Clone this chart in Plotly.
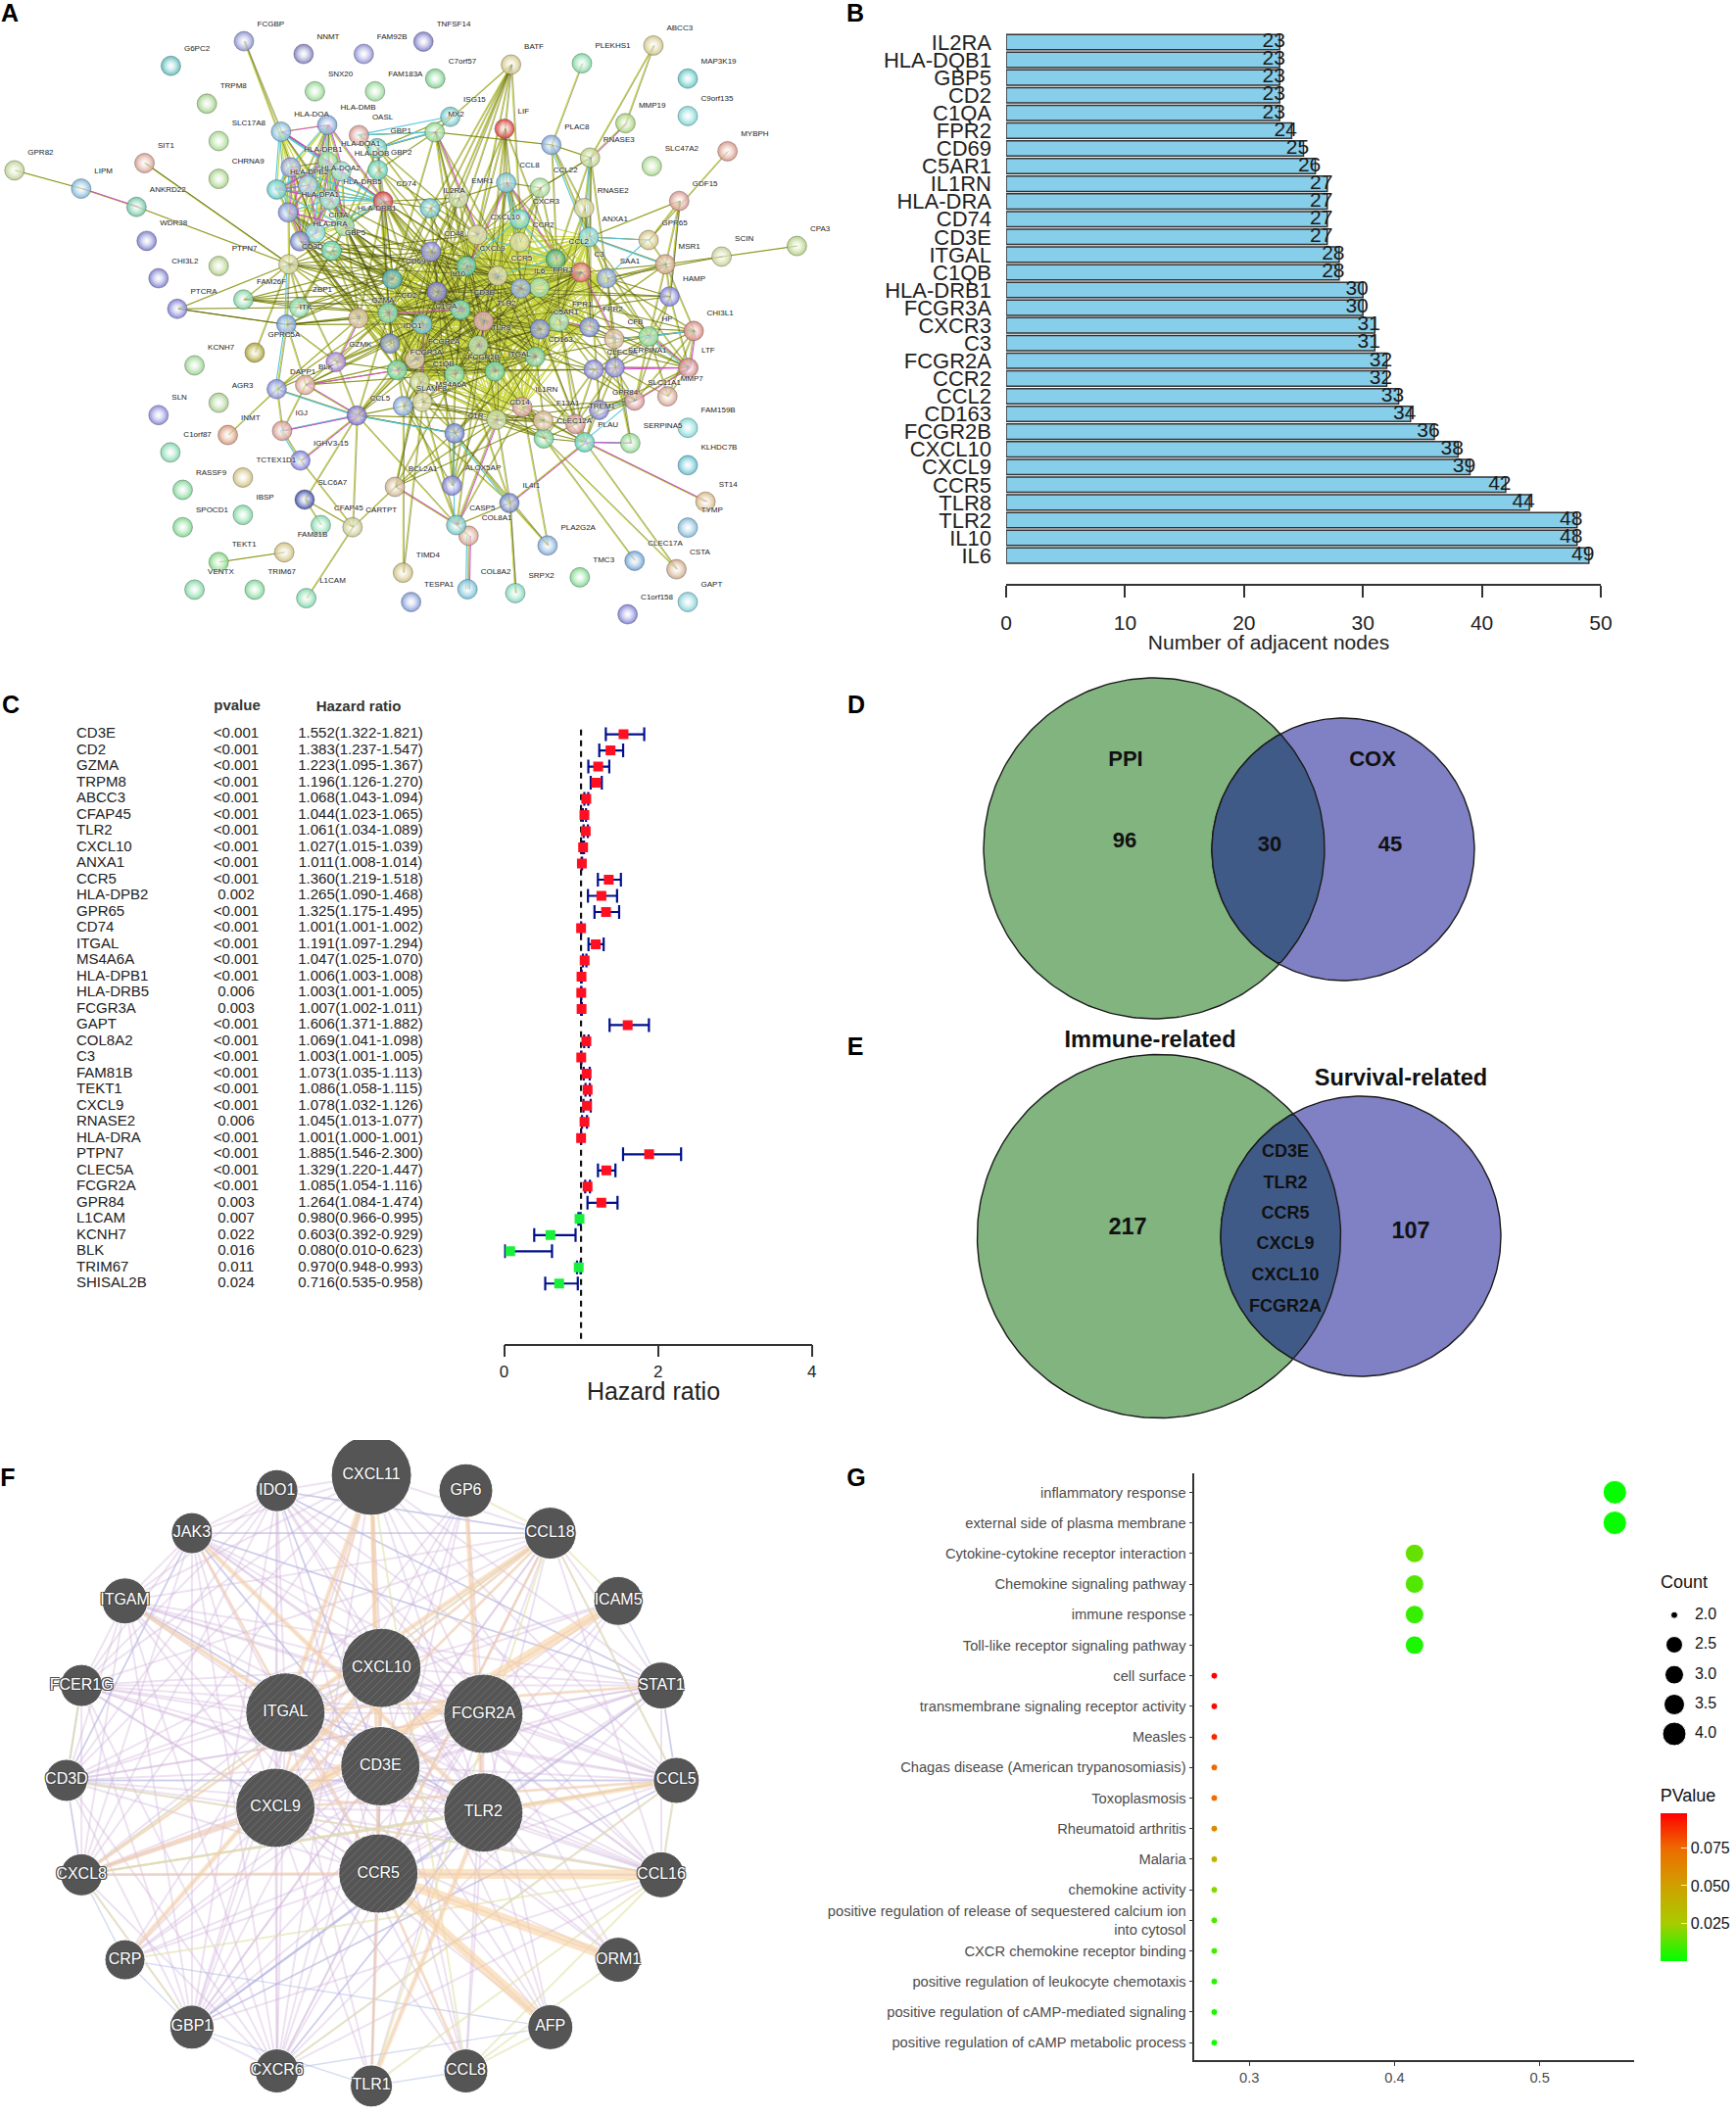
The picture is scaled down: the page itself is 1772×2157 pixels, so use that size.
from itertools import combinations, product

import numpy as np
import plotly.graph_objects as go

W, H = 1772, 2157
FONT = "Liberation Sans"

# ---- panel A: STRING network (positions)
a_names = [
    "FCGBP", "G6PC2", "NNMT", "FAM92B", "TNFSF14", "C7orf57", "SNX20", "FAM183A", "BATF", "PLEKHS1",
    "ABCC3", "MAP3K19", "C9orf135", "TRPM8", "SLC17A8", "CHRNA9", "MMP19", "MYBPH", "SLC47A2", "GPR82",
    "SIT1", "LIPM", "ANKRD22", "WDR38", "PTPN7", "CHI3L2", "PTCRA", "FAM26F", "GPRC5A", "KCNH7",
    "AGR3", "SLN", "INMT", "C1orf87", "RASSF9", "TCTEX1D1", "IBSP", "SPOCD1", "TEKT1", "FAM81B",
    "VENTX", "TRIM67", "L1CAM", "SLC6A7", "CFAP45", "CARTPT", "TIMD4", "TESPA1", "COL8A2", "SRPX2",
    "TMC3", "C1orf158", "GAPT", "CSTA", "CLEC17A", "TYMP", "ST14", "KLHDC7B", "FAM159B", "PLA2G2A",
    "COL8A1", "CASP5", "IL4I1", "ALOX5AP", "BCL2A1", "IGHV3-15", "IGJ", "CCL5", "DAPP1", "BLK",
    "GZMK", "ITK", "ZBP1", "CD3D", "CIITA", "GBP5", "HLA-DRB1", "HLA-DPA1", "HLA-DQA2", "HLA-DOA",
    "HLA-DMB", "OASL", "GBP1", "HLA-DQA1", "HLA-DPB1", "GBP2", "HLA-DOB", "HLA-DPB2", "HLA-DRB5", "HLA-DRA",
    "CD74", "MX2", "ISG15", "LIF", "PLAC8", "RNASE3", "CCL8", "CCL22", "EMR1", "IL2RA",
    "RNASE2", "CXCR3", "CXCL10", "CCR2", "ANXA1", "GPR65", "GDF15", "MSR1", "SCIN", "CPA3",
    "CD48", "CXCL9", "CCR5", "CCL2", "C3", "SAA1", "FPR3", "IL6", "CD69", "IL10",
    "HAMP", "CD2", "GZMA", "C1QA", "CD3E", "TLR2", "FPR1", "C5AR1", "FPR2", "CHI3L1",
    "CFB", "HP", "TLR8", "CD163", "IDO1", "FCGR2A", "FCGR3A", "C1QB", "FCGR2B", "ITGAL",
    "CLEC5A", "SERPINA1", "LTF", "MMP7", "SLC11A1", "GPR84", "SERPINA5", "PLAU", "TREM1", "CLEC12A",
    "F13A1", "IL1RN", "CD14", "MS4A6A", "SLAMF8", "C1R",
]
a_x = [
    454, 318, 565, 677, 788, 810, 586, 698, 951, 1083,
    1216, 1280, 1280, 385, 407, 407, 1164, 1354, 1213, 27,
    269, 151, 254, 273, 407, 295, 330, 453, 474, 362,
    407, 295, 424, 317, 340, 452, 452, 340, 407, 529,
    362, 474, 570, 567, 597, 656, 750, 765, 870, 959,
    1079, 1168, 1280, 1259, 1181, 1280, 1313, 1280, 1280, 1019,
    872, 849, 948, 841, 735, 559, 525, 664, 515, 568,
    625, 533, 557, 537, 587, 617, 641, 536, 573, 523,
    609, 668, 702, 610, 541, 703, 635, 515, 614, 558,
    713, 809, 838, 939, 1026, 1098, 942, 1005, 853, 800,
    1087, 967, 888, 967, 1096, 1207, 1264, 1238, 1343, 1483,
    802, 868, 926, 1034, 1081, 1129, 1004, 969, 730, 813,
    1246, 722, 667, 786, 857, 900, 1040, 1005, 1097, 1291,
    1143, 1207, 890, 996, 726, 772, 739, 781, 846, 921,
    1105, 1144, 1281, 1242, 1181, 1115, 1173, 1088, 1071, 1012,
    1011, 972, 924, 786, 750, 846,
]
a_y = [
    97, 155, 127, 127, 98, 185, 215, 215, 152, 149,
    107, 185, 273, 244, 332, 421, 290, 356, 391, 401,
    384, 444, 487, 567, 626, 655, 727, 705, 830, 860,
    948, 977, 1024, 1065, 1153, 1124, 1212, 1241, 1323, 1300,
    1388, 1388, 1408, 1176, 1236, 1241, 1348, 1417, 1387, 1396,
    1359, 1446, 1417, 1340, 1320, 1242, 1181, 1095, 1007, 1284,
    1261, 1236, 1184, 1143, 1146, 1084, 1014, 978, 916, 906,
    852, 764, 724, 622, 548, 590, 532, 500, 436, 310,
    294, 318, 349, 380, 394, 400, 403, 446, 470, 568,
    474, 311, 275, 303, 341, 371, 430, 442, 466, 490,
    490, 516, 553, 570, 558, 565, 473, 622, 604, 579,
    592, 626, 649, 610, 641, 655, 677, 679, 657, 687,
    698, 737, 749, 763, 729, 756, 757, 775, 770, 779,
    798, 792, 813, 840, 809, 846, 871, 898, 881, 874,
    870, 865, 866, 933, 943, 965, 1043, 1041, 998, 1032,
    990, 958, 988, 946, 956, 1020,
]
a_colors = [
    "#8d93d0", "#5ebcbc", "#7f7fc0", "#9090d8", "#7f7fc8", "#7dd08e", "#93d793", "#96d896", "#d2c688", "#7ed7a2",
    "#d0c688", "#5ec8c8", "#7dd4d4", "#a0d088", "#a5d88e", "#a8d488", "#a8d078", "#d89888", "#a8d88e", "#bcd090",
    "#d6a090", "#7fb8d8", "#70c8a4", "#7f7fd0", "#b2d088", "#7f80d0", "#7f7fd8", "#80d4a4", "#aaa230", "#98d48e",
    "#a8d090", "#8888d8", "#d89878", "#80d7ac", "#80d898", "#d0c080", "#80d8a4", "#80d890", "#80d880", "#d0c080",
    "#80d8a4", "#80d898", "#80d8ac", "#4050a8", "#80d8ac", "#c8c890", "#d0c080", "#7f98d8", "#70c0d8", "#80d8bc",
    "#80d890", "#8080d8", "#80d0d8", "#d0ac88", "#70a4d8", "#80b8d8", "#d8b880", "#60c0d0", "#80d8d8", "#80acd8",
    "#d8a490", "#70c8c8", "#7084c8", "#8080d8", "#d0b490", "#8080d8", "#d89890", "#8070c8", "#808cd8", "#d8a490",
    "#a480d8", "#709cd8", "#80d7a4", "#d0d090", "#80d8d8", "#60d0a4", "#90d890", "#8094d8", "#90c0d8", "#80b8d8",
    "#80a4d8", "#d89890", "#60c8b4", "#90d890", "#909cd8", "#60d0b4", "#90d8bc", "#60c8c8", "#90d8c4", "#7084c8",
    "#d84040", "#90d890", "#70c8c8", "#d84040", "#80a4d8", "#bcd080", "#70c0d0", "#a0d890", "#bcd490", "#60c0c8",
    "#d0d090", "#60d0bc", "#d0d090", "#d0d080", "#70d0d0", "#d0c080", "#d89890", "#d0a480", "#c8d090", "#b4d080",
    "#8081d8", "#50c094", "#d0d090", "#40a864", "#d86060", "#809cd8", "#90d890", "#80a4d8", "#40a8a8", "#7070c8",
    "#8080d8", "#70d0a4", "#d0b490", "#60c0c8", "#60d0a4", "#d89898", "#90d8a4", "#7084d0", "#7084d0", "#d88880",
    "#d8b490", "#80d890", "#a4d490", "#70c894", "#7084b8", "#d0bc90", "#60d094", "#bcd080", "#70d490", "#60d094",
    "#8080d8", "#8080d8", "#d08080", "#d8a490", "#d89090", "#8080d0", "#90d890", "#60d0b4", "#d89090", "#70d094",
    "#d8b490", "#d89890", "#bcd490", "#d0d090", "#80a4d8", "#7084d0",
]

a_core = ("CD48 CXCL9 CCR5 CCL2 C3 SAA1 FPR3 IL6 CD69 IL10 CD2 GZMA C1QA CD3E TLR2 FPR1 C5AR1 FPR2 TLR8 CD163 "
          "IDO1 FCGR2A FCGR3A C1QB FCGR2B ITGAL CXCL10 CCR2 CXCR3 ANXA1 IL1RN CD14").split()
a_dark_core = "CD48 CCR5 IL6 IL10 CD2 CD3E TLR2 C5AR1 TLR8 CD163 FCGR2A FCGR3A FCGR2B ITGAL CXCL9 C3".split()
a_hla = ("HLA-DRB1 HLA-DPA1 HLA-DQA2 HLA-DOA HLA-DMB HLA-DQA1 HLA-DPB1 HLA-DOB HLA-DPB2 HLA-DRB5 HLA-DRA "
         "CD74 CIITA").split()
a_stars = {
    "CD74": "CD2 CD3E CD48 IL10 IL6 CD69 ITGAL TLR2 CCR5 CD163 GZMA C1QA EMR1 IL2RA".split(),
    "HLA-DRA": "CD2 CD3E CD48 IL10 CD69 GZMA ITGAL FCGR3A CCR5 C1QB C1QA IDO1".split(),
    "HLA-DRB1": "CD2 CD3E IL10 CD69 GZMA ITGAL FCGR2A CCR5 C1QB TLR2 IDO1 IL6".split(),
    "HLA-DRB5": "CD2 CD3E CD48 CD69 C1QA FCGR2B".split(),
    "HLA-DPA1": "CD2 GZMA CD3D CD3E CD69 FCGR3A".split(),
    "GBP5": "CXCL9 CXCL10 CCR5 CD2 CD69 IDO1 GBP1 GBP2 GZMA CD3E ITK ZBP1 CD3D".split(),
    "GBP1": "MX2 ISG15 OASL GBP2 CXCL9 CXCL10 IDO1 CD69".split(),
    "GBP2": "MX2 OASL CXCL9 CXCL10 IDO1 CD48".split(),
    "CD3D": "CD2 CD3E GZMA ITK CD48 IL10 CD69 CCR5 ZBP1 GZMK SIT1 PTCRA ANKRD22 FAM26F CD74".split(),
    "ITK": "CD2 CD3E GZMA GZMK DAPP1 BLK CD48 PTCRA C1QA CD69".split(),
    "GZMK": "CD2 CD3E GZMA CCR5 CCL5 FCGR3A".split(),
    "ZBP1": "CD2 CD69 CXCL10 IL10 FAM26F PTCRA".split(),
    "FAM26F": "CD2 CD48 CD69 IL10 CD3E".split(),
    "BATF": "CD2 IL2RA EMR1 CD48 LIF CXCR3 CD3E IL10".split(),
    "MX2": "ISG15 OASL CXCL10 IL6 CD69 TLR2 CXCL9 CD3E".split(),
    "LIF": "IL6 IL10 CCL2 CCL8 CD14 CXCL10 TLR2".split(),
    "CCL8": "CCL2 CCR2 CCR5 CXCR3 CXCL9 CXCL10 CCL22 IL6 EMR1 TLR2 C3".split(),
    "CCL22": "CCR2 CCR5 CCL2 CXCL10 IL10 IL6 RNASE3".split(),
    "EMR1": "FPR1 CD163 CD14 C1QA FCGR3A IL2RA CD48".split(),
    "IL2RA": "IL10 IL6 CD3E CD2 CD69 CCR5".split(),
    "PLAC8": "RNASE3 RNASE2 ANXA1 MX2 FPR1".split(),
    "RNASE3": "RNASE2 ANXA1 CCL2 SAA1 FPR2 CCL22 ABCC3 MMP19".split(),
    "RNASE2": "FPR1 FPR2 C5AR1 ANXA1 GPR84".split(),
    "ANXA1": "GPR65 SAA1 FPR3 HP LTF GDF15 MSR1".split(),
    "MSR1": "SAA1 C3 HP CHI3L1 HAMP TLR2 GPR65 CD163 SCIN GDF15".split(),
    "HAMP": "HP LTF IL6 SAA1 SLC11A1 TLR2 IL10 GDF15".split(),
    "HP": "SAA1 C3 CFB LTF CHI3L1 SERPINA1 IL6 CD163 SLC11A1 CLEC5A MMP7".split(),
    "CFB": "C3 SAA1 FPR1 C5AR1 SERPINA1 SERPINA5 IL6 CHI3L1 PLAU".split(),
    "CHI3L1": "LTF SAA1 IL6 MMP7 SERPINA1 TLR2 SLC11A1".split(),
    "LTF": "SERPINA1 MMP7 SLC11A1 TLR2 IL6 FPR2 GPR84 C3".split(),
    "SLC11A1": "TLR2 CD14 TREM1 CLEC5A FPR1 FPR2 GPR84 IL1RN".split(),
    "SERPINA1": "IL6 SAA1 CLEC5A PLAU TREM1 SERPINA5 MMP7".split(),
    "CLEC5A": "TREM1 TLR2 TLR8 FPR1 FCGR3A ITGAL CLEC12A".split(),
    "TREM1": "TLR2 TLR8 CD14 C5AR1 FPR1 IL1RN GPR84 CLEC12A".split(),
    "CLEC12A": "TLR2 TLR8 F13A1 CD14 FCGR2A C1QB PLAU MS4A6A".split(),
    "PLAU": "IL6 IL1RN FPR1 CD14 SERPINA5 TLR2 F13A1".split(),
    "F13A1": "C1QA C1QB FCGR2A CD163 CD14 MS4A6A SLAMF8".split(),
    "MS4A6A": "C1QA C1QB FCGR2B FCGR3A ITGAL CD14 SLAMF8 C1R TLR8".split(),
    "SLAMF8": "CD163 CD2 C1QB TLR2 IL10 CCL5 CCR5".split(),
    "C1R": "C1QA C1QB C3 CD14 CD163 CCL5 ALOX5AP".split(),
    "CCL5": "CCR5 CXCL9 CD2 CD3E BLK DAPP1 IGJ IGHV3-15 CCL2 FCGR3A C1R CD14".split(),
    "BLK": "CD2 CD3E FCGR3A FCGR2B IGJ C1QA FCGR2A".split(),
    "DAPP1": "CD3E CD2 IGJ GZMA".split(),
    "BCL2A1": "CD14 TLR2 CD163 C1QB IL10 F13A1".split(),
    "ALOX5AP": "CD14 TLR2 FCGR2B ITGAL CD163 IL10 SLAMF8".split(),
    "IL4I1": "C1R SLAMF8 IL10 CD14 SRPX2 PLA2G2A".split(),
    "CASP5": "CD14 TLR2 IL1RN FCGR3A MS4A6A CCL5".split(),
}
a_extra = [
    ("FCGBP", "HLA-DOA"), ("FCGBP", "CIITA"), ("GPR82", "LIPM"), ("LIPM", "ANKRD22"), ("SIT1", "CD3D"),
    ("PTCRA", "ITK"), ("ABCC3", "MMP19"), ("PLEKHS1", "PLAC8"), ("BATF", "MX2"), ("MYBPH", "GPR65"),
    ("GDF15", "GPR65"), ("SCIN", "CPA3"), ("SCIN", "SAA1"), ("TEKT1", "FAM81B"), ("CARTPT", "L1CAM"),
    ("CARTPT", "CCL5"), ("CARTPT", "SLC6A7"), ("CARTPT", "IGHV3-15"), ("CFAP45", "SLC6A7"), ("IGJ", "IGHV3-15"),
    ("INMT", "DAPP1"), ("TIMD4", "SLAMF8"), ("TIMD4", "MS4A6A"), ("COL8A1", "COL8A2"), ("COL8A1", "CASP5"),
    ("CASP5", "BCL2A1"), ("CASP5", "IL4I1"), ("IL4I1", "PLAU"), ("ST14", "PLAU"), ("CLEC17A", "CLEC12A"),
    ("CSTA", "CLEC12A"), ("CSTA", "PLAU"), ("PLA2G2A", "C1R"), ("PLA2G2A", "IL1RN"), ("SRPX2", "IL4I1"),
    ("GPRC5A", "CD3D"), ("CARTPT", "BCL2A1"), ("HAMP", "GDF15"), ("SLC6A7", "CCL5"),
]
a_cyan = [
    ("ISG15", "OASL"), ("MX2", "GBP1"), ("MX2", "OASL"), ("COL8A1", "COL8A2"), ("IGJ", "CCL5"), ("IGJ", "IGHV3-15"),
    ("CCL5", "C1R"), ("C1R", "IL4I1"), ("C1R", "CASP5"), ("PLAC8", "ANXA1"), ("RNASE3", "ANXA1"), ("ANXA1", "GPR65"),
    ("GPR65", "SAA1"), ("MSR1", "ANXA1"), ("CCL8", "CCR2"), ("CCL8", "CXCR3"), ("CXCR3", "CCL2"), ("CCL2", "CXCL10"),
    ("CXCR3", "CXCL9"), ("CCR5", "CCL2"), ("HP", "CHI3L1"), ("HP", "LTF"), ("PLAU", "SERPINA5"), ("SLC11A1", "PLAU"),
    ("GPR84", "SLC11A1"), ("CFB", "HP"), ("CD3D", "ITK"), ("ITK", "DAPP1"), ("DAPP1", "CCL5"), ("CD74", "CIITA"),
]
a_magenta = [
    ("LIPM", "ANKRD22"), ("COL8A1", "COL8A2"), ("ST14", "PLAU"), ("IL4I1", "PLAU"), ("BCL2A1", "CASP5"), ("CCL5", "BLK"),
    ("BLK", "FCGR3A"), ("CCL5", "IGJ"), ("IGHV3-15", "CCL5"), ("MMP19", "RNASE3"), ("HLA-DOA", "HLA-DMB"), ("CCL8", "CXCL9"),
    ("CCL8", "CCL2"), ("MX2", "CXCL10"), ("CFB", "C3"), ("LTF", "HP"), ("LTF", "CHI3L1"), ("SLC11A1", "LTF"),
    ("PLAU", "SERPINA5"), ("TLR2", "TLR8"), ("CD3E", "CD2"), ("FCGR2A", "FCGR3A"), ("FPR1", "FPR2"), ("C1QA", "C1QB"),
    ("CASP5", "CD14"), ("CLEC5A", "LTF"), ("GZMK", "GZMA"), ("SERPINA1", "LTF"),
]

# ---- panel B
b_genes = ["IL2RA", "HLA-DQB1", "GBP5", "CD2", "C1QA", "FPR2", "CD69", "C5AR1", "IL1RN", "HLA-DRA",
           "CD74", "CD3E", "ITGAL", "C1QB", "HLA-DRB1", "FCGR3A", "CXCR3", "C3", "FCGR2A", "CCR2",
           "CCL2", "CD163", "FCGR2B", "CXCL10", "CXCL9", "CCR5", "TLR8", "TLR2", "IL10", "IL6"]
b_nodes = [23, 23, 23, 23, 23, 24, 25, 26, 27, 27,
           27, 27, 28, 28, 30, 30, 31, 31, 32, 32,
           33, 34, 36, 38, 39, 42, 44, 48, 48, 49]

# ---- panel C
c_genes = ["CD3E", "CD2", "GZMA", "TRPM8", "ABCC3", "CFAP45", "TLR2", "CXCL10", "ANXA1", "CCR5",
           "HLA-DPB2", "GPR65", "CD74", "ITGAL", "MS4A6A", "HLA-DPB1", "HLA-DRB5", "FCGR3A", "GAPT", "COL8A2",
           "C3", "FAM81B", "TEKT1", "CXCL9", "RNASE2", "HLA-DRA", "PTPN7", "CLEC5A", "FCGR2A", "GPR84",
           "L1CAM", "KCNH7", "BLK", "TRIM67", "SHISAL2B"]
c_pvalue = ["<0.001"] * 10 + ["0.002"] + ["<0.001"] * 5 + ["0.006", "0.003"] + ["<0.001"] * 6 + ["0.006"] + \
           ["<0.001"] * 4 + ["0.003", "0.007", "0.022", "0.016", "0.011", "0.024"]
c_hr = [1.552, 1.383, 1.223, 1.196, 1.068, 1.044, 1.061, 1.027, 1.011, 1.360,
        1.265, 1.325, 1.001, 1.191, 1.047, 1.006, 1.003, 1.007, 1.606, 1.069,
        1.003, 1.073, 1.086, 1.078, 1.045, 1.001, 1.885, 1.329, 1.085, 1.264,
        0.980, 0.603, 0.080, 0.970, 0.716]
c_low = [1.322, 1.237, 1.095, 1.126, 1.043, 1.023, 1.034, 1.015, 1.008, 1.219,
         1.090, 1.175, 1.001, 1.097, 1.025, 1.003, 1.001, 1.002, 1.371, 1.041,
         1.001, 1.035, 1.058, 1.032, 1.013, 1.000, 1.546, 1.220, 1.054, 1.084,
         0.966, 0.392, 0.010, 0.948, 0.535]
c_high = [1.821, 1.547, 1.367, 1.270, 1.094, 1.065, 1.089, 1.039, 1.014, 1.518,
          1.468, 1.495, 1.002, 1.294, 1.070, 1.008, 1.005, 1.011, 1.882, 1.098,
          1.005, 1.113, 1.115, 1.126, 1.077, 1.001, 2.300, 1.447, 1.116, 1.474,
          0.995, 0.929, 0.623, 0.993, 0.958]

# ---- panels D, E
e_overlap = ["CD3E", "TLR2", "CCR5", "CXCL9", "CXCL10", "FCGR2A"]

# ---- panel F: GeneMANIA network
f_outer = ["CXCL11", "IDO1", "GP6", "JAK3", "CCL18", "ITGAM", "ICAM5", "FCER1G", "STAT1", "CD3D",
           "CCL5", "CXCL8", "CCL16", "CRP", "ORM1", "GBP1", "AFP", "CXCR6", "CCL8", "TLR1"]
f_outer_x = [743, 554, 932, 384, 1101, 250, 1237, 163, 1323, 133,
             1353, 163, 1323, 250, 1237, 384, 1101, 554, 932, 743]
f_outer_y = [82, 118, 118, 217, 217, 375, 375, 572, 572, 793,
             793, 1013, 1013, 1211, 1211, 1368, 1368, 1470, 1470, 1505]
f_outer_size = [82, 43, 55, 42, 53, 47, 50, 43, 48, 43,
                47, 43, 47, 41, 46, 45, 46, 45, 45, 43]
f_inner = ["CXCL10", "ITGAL", "FCGR2A", "CD3E", "CXCL9", "TLR2", "CCR5"]
f_inner_x = [763, 571, 967, 761, 551, 967, 757]
f_inner_y = [531, 635, 638, 760, 857, 868, 1010]
f_purple_hubs = ["CCL18", "STAT1", "CCL5", "GBP1", "CD3D", "FCER1G", "ITGAM", "CXCR6", "JAK3", "IDO1", "CXCL8", "CCL16", "CXCL11"]
f_blue = [("JAK3", "STAT1"), ("JAK3", "CCL18"), ("JAK3", "CD3E"), ("JAK3", "CD3D"), ("IDO1", "CCL18"), ("IDO1", "STAT1"),
          ("IDO1", "CD3E"), ("ITGAM", "TLR2"), ("CRP", "AFP"), ("CRP", "GBP1"), ("GBP1", "STAT1"), ("GBP1", "CCL5"),
          ("GBP1", "TLR2"), ("CXCR6", "AFP"), ("CXCR6", "TLR2"), ("CXCL8", "CRP"), ("STAT1", "CCL5"), ("CD3D", "CXCL8"),
          ("CD3D", "CCL5"), ("FCER1G", "CD3D"), ("ICAM5", "STAT1"), ("TLR1", "CCL8"), ("GBP1", "TLR1")]
f_olive = [("FCER1G", "CD3D"), ("CCL5", "CCL16"), ("CCL18", "CCL5"), ("CCL18", "ICAM5"), ("GP6", "CCL18"), ("CCL18", "TLR1"),
           ("CXCL8", "CCL18"), ("CXCL8", "CCL5"), ("CXCL8", "TLR2"), ("CCL16", "CCL8"), ("CCL16", "TLR1"), ("CXCL11", "CCL8"),
           ("CRP", "CCL16"), ("AFP", "CCL8"), ("ORM1", "CCL8"), ("CXCR6", "CCL5"), ("CXCL8", "GBP1"), ("CD3D", "CCL16")]
f_orange_thin = [("JAK3", "CCR5"), ("CXCL11", "CXCL9"), ("CXCL11", "CCR5"), ("CCL18", "CXCL9"), ("CCL18", "CXCL10"), ("CCL18", "CCR5"),
                 ("CXCL8", "CXCL10"), ("CXCL8", "CCR5"), ("CCL5", "CXCL9"), ("STAT1", "ITGAL"), ("TLR1", "CCR5"), ("CCL8", "CCR5")]
f_orange_mid = [("ITGAM", "CD3E"), ("JAK3", "TLR2"), ("CXCL11", "CD3E"), ("CXCL11", "ITGAL"), ("GP6", "TLR2"), ("CCL18", "ITGAL"),
                ("CXCL8", "CXCL9"), ("CRP", "CXCL10"), ("CCL5", "TLR2"), ("TLR1", "TLR2")]
f_orange_thick = [("ICAM5", "CXCL9"), ("CCL16", "CCR5"), ("ORM1", "CCR5"), ("AFP", "CCR5")]

# ---- panel G
g_terms = ["inflammatory response", "external side of plasma membrane", "Cytokine-cytokine receptor interaction",
           "Chemokine signaling pathway", "immune response", "Toll-like receptor signaling pathway", "cell surface",
           "transmembrane signaling receptor activity", "Measles", "Chagas disease (American trypanosomiasis)",
           "Toxoplasmosis", "Rheumatoid arthritis", "Malaria", "chemokine activity",
           "positive regulation of release of sequestered calcium ion<br>into cytosol", "CXCR chemokine receptor binding",
           "positive regulation of leukocyte chemotaxis", "positive regulation of cAMP-mediated signaling",
           "positive regulation of cAMP metabolic process"]
g_ratio = [0.5517, 0.5517, 0.4138, 0.4138, 0.4138, 0.4138, 0.2759, 0.2759, 0.2759, 0.2759,
           0.2759, 0.2759, 0.2759, 0.2759, 0.2759, 0.2759, 0.2759, 0.2759, 0.2759]
g_count = [4, 4, 3, 3, 3, 3, 2, 2, 2, 2, 2, 2, 2, 2, 2, 2, 2, 2, 2]
g_pvalue = [0.0008, 0.001, 0.015, 0.012, 0.008, 0.004, 0.098, 0.097, 0.09, 0.075,
            0.073, 0.06, 0.04, 0.02, 0.012, 0.01, 0.006, 0.004, 0.003]
g_legend_counts = [2.0, 2.5, 3.0, 3.5, 4.0]
g_legend_sizes = [7, 17, 19, 21, 24]


def dom_x(left, right):
    return [left / W, right / W]


def dom_y(top, bottom):
    return [1 - bottom / H, 1 - top / H]


def hidden(dom, rng, anchor):
    return dict(domain=dom, range=rng, anchor=anchor, visible=False, fixedrange=True)


def edge_xy(pairs, lookup, off=0):
    xs, ys = [], []
    for p, q in pairs:
        xs += [lookup[p][0] + off, lookup[q][0] + off, None]
        ys += [lookup[p][1], lookup[q][1], None]
    return xs, ys


fig = go.Figure()


def add_edges(pairs, lookup, color, width, axes, off=0):
    xs, ys = edge_xy(pairs, lookup, off)
    fig.add_trace(go.Scatter(x=xs, y=ys, mode="lines", line=dict(color=color, width=width),
                             hoverinfo="skip", xaxis=axes[0], yaxis=axes[1]))


def add_text(xs, ys, texts, size, color="#111111", bold=False, pos="middle center"):
    fig.add_trace(go.Scatter(x=xs, y=ys, text=texts, mode="text", textposition=pos,
                             textfont=dict(family=FONT, size=size, color=color, weight="bold" if bold else "normal"),
                             hoverinfo="skip", xaxis="x8", yaxis="y8"))


# ---- A
a_pos = dict(zip(a_names, zip(a_x, a_y)))
a_star_edges = [(hub, n) for hub, others in a_stars.items() for n in others]
a_all = list(combinations(a_core, 2)) + list(combinations(a_hla, 2)) + a_star_edges + a_extra
a_dark = list(combinations(a_dark_core, 2)) + a_star_edges + a_extra + list(combinations(a_hla, 2))[::2]
add_edges(a_all, a_pos, "#c8d63c", 1.1, ("x", "y"))
add_edges(a_dark, a_pos, "rgba(45,45,25,0.7)", 0.6, ("x", "y"), off=2)
add_edges(a_cyan + list(combinations(a_hla, 2))[1::3], a_pos, "#55c6e0", 1.1, ("x", "y"), off=-3)
add_edges(a_magenta + list(combinations(a_hla, 2))[::4], a_pos, "#d64fd0", 1.0, ("x", "y"), off=4)
fig.add_trace(go.Scatter(
    x=a_x, y=a_y, text=a_names, mode="markers+text", textposition="top right",
    marker=dict(size=20, color=a_colors, opacity=1, gradient=dict(type="radial", color="rgba(255,255,255,0.45)"),
                line=dict(color="rgba(80,80,80,0.6)", width=0.7)),
    textfont=dict(family=FONT, size=8, color="#222222", shadow="0 0 2px #ffffff, 0 0 2px #ffffff"),
    hoverinfo="skip"))

# ---- B
fig.add_trace(go.Bar(x=b_nodes, y=b_genes, orientation="h", marker=dict(color="#87ceeb", line=dict(color="#333333", width=1.5)),
                     hoverinfo="skip", xaxis="x2", yaxis="y2"))
fig.add_trace(go.Scatter(x=[v - 0.5 for v in b_nodes], y=b_genes, text=b_nodes, mode="text", textposition="middle center",
                         textfont=dict(family=FONT, size=21, color="#1a1a1a"), hoverinfo="skip", xaxis="x2", yaxis="y2"))
add_text([1295], [658], ["Number of adjacent nodes"], 21, "#222222")

# ---- C
c_rows = list(range(len(c_genes)))
c_row0, c_rowh = 749.6, 16.49
fig.add_trace(go.Scatter(x=[1, 1], y=[-0.3, 37.72], mode="lines", line=dict(color="#111111", width=2.2, dash="6px,5px"),
                         hoverinfo="skip", xaxis="x3", yaxis="y3"))
fig.add_trace(go.Scatter(
    x=c_hr, y=c_rows, mode="markers",
    marker=dict(symbol="square", size=10, opacity=1, color=["#ff1020" if v > 1 else "#19f03c" for v in c_hr]),
    error_x=dict(type="data", symmetric=False, array=[h - v for h, v in zip(c_high, c_hr)],
                 arrayminus=[v - l for v, l in zip(c_hr, c_low)], color="#00108a", thickness=2.2, width=7),
    hoverinfo="skip", xaxis="x3", yaxis="y3"))
row_px = [c_row0 + c_rowh * i for i in c_rows]
add_text([78] * len(c_genes), row_px, c_genes, 15, "#222222", pos="middle right")
add_text([241] * len(c_genes), row_px, c_pvalue, 15, "#222222")
add_text([368] * len(c_genes), row_px, [f"{h:.3f}({l:.3f}-{u:.3f})" for h, l, u in zip(c_hr, c_low, c_high)], 15, "#222222")
add_text([242, 366], [721, 722], ["pvalue", "Hazard ratio"], 15, "#333333", bold=True)
add_text([667], [1423], ["Hazard ratio"], 25, "#222222")


# ---- D, E
def circle(cx, cy, r):
    t = np.linspace(0, 2 * np.pi, 241)
    return cx + r * np.cos(t), cy + r * np.sin(t)


def lens(c1, c2):
    x1, y1 = circle(*c1)
    x2, y2 = circle(*c2)
    in2 = (x1 - c2[0]) ** 2 + (y1 - c2[1]) ** 2 <= c2[2] ** 2
    in1 = (x2 - c1[0]) ** 2 + (y2 - c1[1]) ** 2 <= c1[2] ** 2
    p1 = np.column_stack([x1[in2], y1[in2]])
    p2 = np.column_stack([x2[in1], y2[in1]])
    pts = np.vstack([p1, p2])
    ang = np.arctan2(pts[:, 1] - pts[:, 1].mean(), pts[:, 0] - pts[:, 0].mean())
    pts = pts[np.argsort(ang)]
    return np.append(pts[:, 0], pts[0, 0]), np.append(pts[:, 1], pts[0, 1])


def venn(big, small):
    for c, col in ((big, "#82b47f"), (small, "#8080c4")):
        x, y = circle(*c)
        fig.add_trace(go.Scatter(x=x, y=y, mode="lines", fill="toself", fillcolor=col, line=dict(color="#1a1a1a", width=1.4),
                                 hoverinfo="skip", xaxis="x8", yaxis="y8"))
    x, y = lens(big, small)
    fig.add_trace(go.Scatter(x=x, y=y, mode="lines", fill="toself", fillcolor="#405a88", line=dict(color="#1a1a1a", width=1.4),
                             hoverinfo="skip", xaxis="x8", yaxis="y8"))


venn((1178, 866, 174), (1371, 867, 134))
venn((1183, 1262, 185.5), (1389, 1262, 143))
add_text([1149, 1401, 1148, 1296, 1419], [776, 776, 859, 863, 863], ["PPI", "COX", "96", "30", "45"], 22, bold=True)
add_text([1174, 1430], [1063, 1102], ["Immune-related", "Survival-related"], 23.5, bold=True)
add_text([1151, 1440], [1254, 1258], ["217", "107"], 23.5, bold=True)
add_text([1312] * 6, [1176.5, 1208, 1239.5, 1270.5, 1302.5, 1334], e_overlap, 18, bold=True)

# ---- F
f_pos = dict(zip(f_outer + f_inner, zip(f_outer_x + f_inner_x, f_outer_y + f_inner_y)))
f_purple = list(product(f_inner, f_outer)) + list(combinations(f_inner, 2)) + list(combinations(f_purple_hubs, 2))
add_edges(f_purple, f_pos, "rgba(208,178,218,0.38)", 2, ("x7", "y7"))
add_edges(f_blue, f_pos, "rgba(170,185,230,0.5)", 1.4, ("x7", "y7"))
add_edges(f_olive, f_pos, "rgba(225,225,170,0.6)", 2, ("x7", "y7"))
add_edges(f_orange_thin, f_pos, "rgba(248,210,160,0.45)", 3, ("x7", "y7"))
add_edges(f_orange_mid, f_pos, "rgba(248,210,160,0.5)", 5, ("x7", "y7"))
add_edges(f_orange_thick, f_pos, "rgba(248,210,160,0.6)", 10, ("x7", "y7"))
fig.add_trace(go.Scatter(x=f_outer_x + f_inner_x, y=f_outer_y + f_inner_y, mode="markers",
                         marker=dict(size=f_outer_size + [81] * len(f_inner), color="#555555", opacity=1),
                         hoverinfo="skip", xaxis="x7", yaxis="y7"))
hx, hy = [], []
for cx, cy in zip(f_inner_x, f_inner_y):
    for s in np.arange(-1.3, 1.31, 0.2):
        d = np.sqrt(2 - s * s)
        for u in ((s - d) / 2, (s + d) / 2):
            hx.append(cx + u * 79)
            hy.append(cy + (s - u) * 92)
        hx.append(None)
        hy.append(None)
fig.add_trace(go.Scatter(x=hx, y=hy, mode="lines", line=dict(color="#727272", width=0.9), hoverinfo="skip", xaxis="x7", yaxis="y7"))
fig.add_trace(go.Scatter(x=f_outer_x + f_inner_x, y=f_outer_y + f_inner_y, text=f_outer + f_inner, mode="text",
                         textposition="middle center",
                         textfont=dict(family=FONT, size=16, color="#ffffff",
                                       shadow="-1px -1px 0 #4a4a4a, 1px -1px 0 #4a4a4a, -1px 1px 0 #4a4a4a, 1px 1px 0 #4a4a4a"),
                         hoverinfo="skip", xaxis="x7", yaxis="y7"))

# ---- G
size_for_count = dict(zip(g_legend_counts, g_legend_sizes))
fig.add_trace(go.Scatter(
    x=g_ratio, y=g_terms, mode="markers",
    marker=dict(size=[size_for_count[float(c)] for c in g_count], color=g_pvalue, cmin=0, cmax=0.098, opacity=1,
                colorscale=[[0, "#00ff00"], [0.255, "#a8cc00"], [0.51, "#d0a000"], [0.765, "#ee6a00"], [1, "#ff0000"]],
                colorbar=dict(x=1695 / W, xanchor="left", xpad=0, y=1 - 1851 / H, yanchor="top", ypad=0,
                              thicknessmode="pixels", thickness=27, lenmode="pixels", len=151, outlinewidth=0,
                              tickvals=[0.025, 0.05, 0.075], ticktext=["0.025", "0.050", "0.075"], ticks="inside",
                              ticklen=6, tickcolor="rgba(255,255,255,0.8)", tickfont=dict(family=FONT, size=16, color="#111111"))),
    hoverinfo="skip", xaxis="x4", yaxis="y4"))
legend_y = [1648.7, 1679, 1709.6, 1740, 1770]
fig.add_trace(go.Scatter(x=[1709] * 5, y=legend_y, mode="markers", marker=dict(size=g_legend_sizes, color="#000000", opacity=1),
                         hoverinfo="skip", xaxis="x8", yaxis="y8"))
add_text([1741] * 5, legend_y, [f"{c:.1f}" for c in g_legend_counts], 16)
add_text([1719, 1723], [1616, 1834], ["Count", "PValue"], 18)

# panel letters
add_text([10, 873, 11, 874, 873, 8, 874], [16, 16, 722, 722, 1071, 1511, 1511], list("ABCDEFG"), 25, "#000000", bold=True)

axis_font = dict(family=FONT, color="#222222")
fig.update_layout(
    template="none",
    width=W, height=H, margin=dict(l=0, r=0, t=0, b=0), showlegend=False,
    paper_bgcolor="#ffffff", plot_bgcolor="rgba(0,0,0,0)", bargap=0.137, font=dict(family=FONT),
    xaxis=hidden(dom_x(0, 860), [0, 1568], "y"),
    yaxis=hidden(dom_y(0, 680), [1568, 0], "x"),
    xaxis2=dict(domain=dom_x(1027, 1634), range=[0, 50], anchor="y2", showgrid=False, zeroline=False, showline=True,
                linecolor="#333333", linewidth=1.5, ticks="outside", ticklen=12, tickwidth=1.5, tickcolor="#333333",
                tickvals=[0, 10, 20, 30, 40, 50], tickfont=dict(size=21, **axis_font), ticklabelstandoff=8),
    yaxis2=dict(domain=dom_y(30, 596), range=[30.6, -0.72], anchor="x2", type="category", categoryorder="array",
                categoryarray=b_genes, tickmode="array", tickvals=b_genes, ticktext=b_genes, showgrid=False, zeroline=False,
                showline=False, ticks="", ticklabelstandoff=14, tickfont=dict(size=22, **axis_font)),
    xaxis3=dict(domain=dom_x(514.5, 828.8), range=[0, 4], anchor="y3", showgrid=False, zeroline=False, showline=True,
                linecolor="#333333", linewidth=1.5, ticks="outside", ticklen=12, tickwidth=1.5, tickcolor="#333333",
                tickvals=[0, 2, 4], tickfont=dict(size=17, **axis_font)),
    yaxis3=dict(domain=dom_y(735, 1371.6), range=[37.72, -0.885], anchor="x3", visible=False),
    xaxis4=dict(domain=dom_x(1219.3, 1668), range=[0.2623, 0.565], anchor="y4", showgrid=False, zeroline=False, showline=True,
                linecolor="#333333", linewidth=1.5, ticks="outside", ticklen=4, tickcolor="#333333",
                tickvals=[0.3, 0.4, 0.5], ticktext=["0.3", "0.4", "0.5"], tickfont=dict(size=14.7, family=FONT, color="#4d4d4d")),
    yaxis4=dict(domain=dom_y(1504, 2103), range=[18.57, -0.62], anchor="x4", type="category", categoryorder="array",
                categoryarray=g_terms, tickmode="array", tickvals=g_terms, ticktext=g_terms, showgrid=False, zeroline=False,
                showline=True, linecolor="#333333", linewidth=1.5, ticks="outside", ticklen=4, tickcolor="#333333",
                tickfont=dict(size=14.7, family=FONT, color="#4d4d4d")),
    xaxis7=hidden(dom_x(0, 800), [0, 1568], "y7"),
    yaxis7=hidden(dom_y(1470, 2157), [1568, 0], "x7"),
    xaxis8=hidden([0, 1], [0, W], "y8"),
    yaxis8=hidden([0, 1], [H, 0], "x8"),
)

fig.write_html("out.html", config=dict(displayModeBar=False), post_script="document.body.style.margin='0';")
